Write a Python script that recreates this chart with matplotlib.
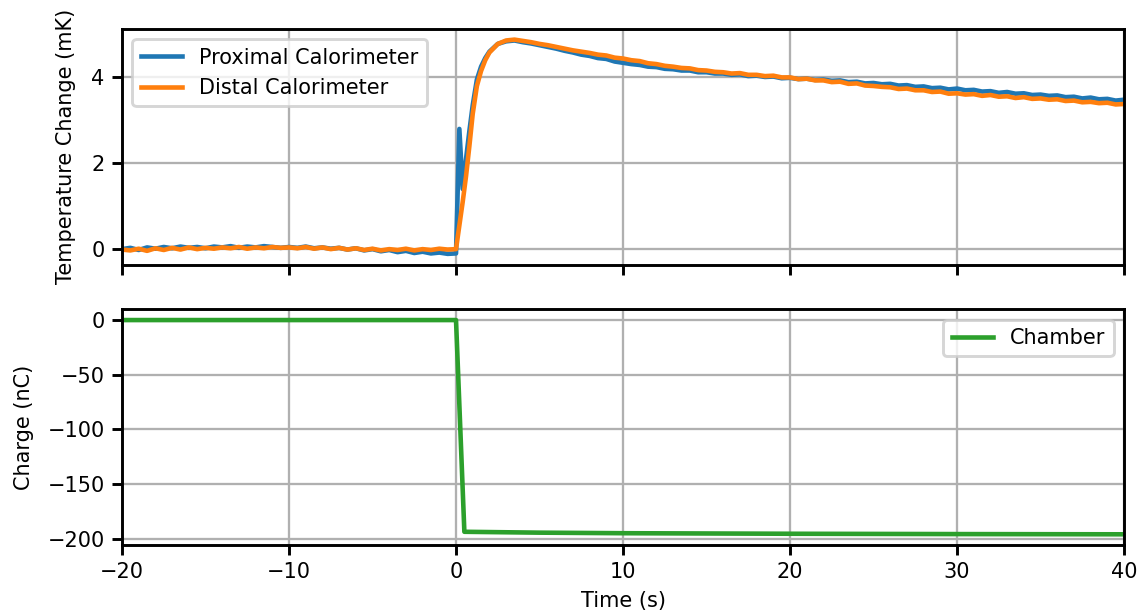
import numpy as np
import matplotlib
matplotlib.use("Agg")
import matplotlib.pyplot as plt

plt.rcParams["axes.linewidth"] = 1.4
plt.rcParams["grid.linewidth"] = 1.1
plt.rcParams["xtick.major.width"] = 1.4
plt.rcParams["ytick.major.width"] = 1.4
plt.rcParams["xtick.major.size"] = 4.8
plt.rcParams["ytick.major.size"] = 4.8

# sampling grid of the calorimeter traces
t_pre = np.arange(-20.0, 0.01, 0.5)
t_rise = [0.2, 0.4, 0.6, 0.8, 1.0, 1.25, 1.5, 1.75, 2.0, 2.5, 3.0, 3.5]
t_decay = np.arange(4.0, 40.01, 0.5)
time_s = np.concatenate([t_pre, t_rise, t_decay])

proximal_pre = [0.00, 0.03, -0.02, 0.04, 0.01, 0.05, 0.02, 0.06, 0.03, 0.05,
                0.02, 0.06, 0.04, 0.07, 0.03, 0.06, 0.04, 0.07, 0.05, 0.03,
                0.05, 0.03, 0.06, 0.02, 0.04, 0.01, 0.03, -0.01, 0.02, -0.03,
                0.00, -0.05, -0.02, -0.07, -0.04, -0.09, -0.06, -0.10, -0.08, -0.11,
                -0.10]
proximal_rise = [2.80, 1.40, 2.10, 2.75, 3.35, 3.95, 4.25, 4.45, 4.60, 4.78, 4.84, 4.86]
proximal_decay = [4.82, 4.79, 4.75, 4.71, 4.67, 4.62, 4.58, 4.53, 4.50, 4.45,
                  4.43, 4.37, 4.34, 4.31, 4.29, 4.25, 4.24, 4.20, 4.19, 4.16,
                  4.16, 4.12, 4.12, 4.09, 4.09, 4.06, 4.07, 4.03, 4.04, 4.01,
                  4.02, 3.98, 3.99, 3.96, 3.97, 3.94, 3.95, 3.92, 3.93, 3.89,
                  3.90, 3.86, 3.87, 3.84, 3.85, 3.81, 3.82, 3.78, 3.79, 3.75,
                  3.76, 3.72, 3.74, 3.70, 3.71, 3.67, 3.68, 3.64, 3.66, 3.62,
                  3.63, 3.59, 3.60, 3.57, 3.58, 3.54, 3.55, 3.51, 3.53, 3.49,
                  3.50, 3.46, 3.48]

distal_pre = [-0.01, -0.03, 0.01, -0.04, 0.02, -0.02, 0.03, -0.01, 0.04, 0.00,
              0.03, 0.01, 0.04, 0.02, 0.05, 0.01, 0.04, 0.02, 0.05, 0.03,
              0.04, 0.02, 0.05, 0.01, 0.04, 0.00, 0.03, -0.01, 0.02, -0.02,
              0.01, -0.03, 0.00, -0.02, 0.01, -0.03, 0.00, -0.02, 0.01, -0.01,
              0.00]
distal_rise = [0.55, 1.10, 1.70, 2.40, 3.15, 3.80, 4.15, 4.40, 4.58, 4.78, 4.86, 4.88]
distal_decay = [4.85, 4.82, 4.78, 4.75, 4.71, 4.67, 4.63, 4.60, 4.57, 4.53,
                4.51, 4.46, 4.44, 4.40, 4.38, 4.33, 4.31, 4.27, 4.25, 4.22,
                4.21, 4.17, 4.16, 4.13, 4.12, 4.09, 4.10, 4.06, 4.06, 4.03,
                4.04, 4.00, 4.00, 3.96, 3.97, 3.93, 3.93, 3.89, 3.90, 3.85,
                3.86, 3.81, 3.80, 3.78, 3.77, 3.73, 3.74, 3.70, 3.70, 3.66,
                3.67, 3.62, 3.63, 3.60, 3.61, 3.57, 3.59, 3.55, 3.56, 3.52,
                3.54, 3.50, 3.51, 3.48, 3.49, 3.45, 3.46, 3.42, 3.43, 3.40,
                3.41, 3.37, 3.38]

proximal_mK = np.array(proximal_pre + proximal_rise + proximal_decay)
distal_mK = np.array(distal_pre + distal_rise + distal_decay)

# ion chamber charge
charge_time_s = [-20, 0, 0.5, 5, 10, 20, 30, 40]
charge_nC = [0, 0, -193.5, -194.3, -194.8, -195.3, -195.6, -195.8]

fig, (ax1, ax2) = plt.subplots(2, 1, sharex=True, figsize=(1137 / 150, 615 / 150), dpi=150)
fig.subplots_adjust(left=0.1073, right=0.9886, top=0.953, bottom=0.1138, hspace=0.19)

ax1.plot(time_s, proximal_mK, color="tab:blue", lw=2.2, label="Proximal Calorimeter")
ax1.plot(time_s, distal_mK, color="tab:orange", lw=2.2, label="Distal Calorimeter")
ax1.set_ylabel("Temperature Change (mK)", labelpad=7.5)
ax1.grid(True)
leg1 = ax1.legend(loc="upper left")
leg1.get_frame().set_linewidth(1.4)

ax2.plot(charge_time_s, charge_nC, color="tab:green", lw=2.2, label="Chamber")
ax2.set_ylabel("Charge (nC)", labelpad=6.5)
ax2.set_xlabel("Time (s)", labelpad=4)
ax2.grid(True)
leg2 = ax2.legend(loc="upper right")
leg2.get_frame().set_linewidth(1.4)
ax2.set_xlim(-20, 40)

fig.savefig("out.png", dpi=150)
